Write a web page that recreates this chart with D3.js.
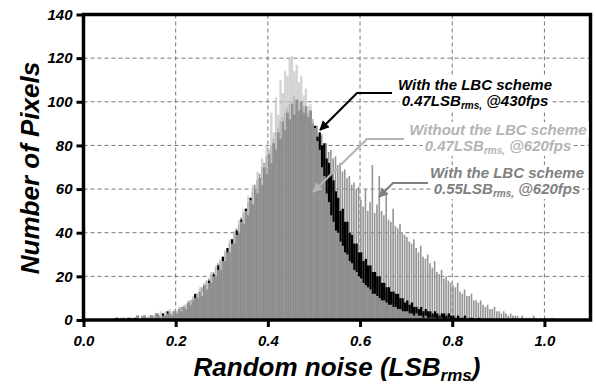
<!DOCTYPE html>
<html>
<head>
<meta charset="utf-8">
<script src="https://cdn.jsdelivr.net/npm/d3@7"></script>
<style>
  body { margin: 0; background: #fff; }
  text { font-family: "Liberation Sans", Arial, sans-serif; font-weight: bold; font-style: italic; }
</style>
</head>
<body>
<div id="chart"></div>
<script>
// histogram bins: left edge of first bin and bin width (LSB_rms)
const binStart = 0.06;
const binWidth = 0.005;

// With the LBC scheme, 0.47LSBrms @430fps (black)
const withLbc430 = [
  0,0,1,0,0,1,0,1,
  1,0,1,2,0,1,2,1,1,2,
  1,3,2,1,3,2,4,3,2,4,
  3,5,4,6,5,8,7,9,12,10,
  13,11,16,14,18,17,21,20,25,23,
  29,27,33,31,37,35,41,40,46,44,
  51,48,56,53,60,58,65,62,70,67,
  76,72,81,78,86,83,91,87,95,92,
  99,94,101,96,100,95,98,93,96,90,
  89,84,86,80,81,74,72,67,64,59,
  56,50,51,45,45,40,39,35,35,31,
  31,27,28,25,25,22,22,20,20,17,
  17,15,15,13,13,12,12,10,10,8,
  9,7,8,6,6,5,6,4,5,4,
  4,3,4,3,2,3,3,2,3,2,
  2,1,2,1,1,2,0,1,1,0,
  0,1,0,0
];

// Without the LBC scheme, 0.47LSBrms @620fps (light gray)
const withoutLbc620 = [
  0,1,0,1,0,1,1,0,
  1,1,0,2,1,1,2,1,2,2,
  2,3,2,4,2,4,3,5,4,5,
  4,6,5,7,7,9,8,11,10,12,
  15,13,17,18,17,22,20,25,23,28,
  27,32,31,37,35,41,39,46,45,51,
  50,57,55,62,60,68,65,74,71,80,
  78,95,86,102,94,110,104,114,112,120,
  121,114,117,109,112,103,106,98,99,92,
  88,82,78,70,66,58,54,48,45,41,
  40,36,34,31,30,27,26,23,22,20,
  19,17,16,15,14,12,12,11,10,9,
  9,8,7,7,6,6,5,5,4,4,
  4,3,3,2,3,2,2,1,2,1,
  1,1,1,0,1,1,0,0,1,0
];

// With the LBC scheme, 0.55LSBrms @620fps (mid gray)
const withLbc620 = [
  0,0,1,0,1,0,0,1,
  0,1,1,1,0,2,1,1,1,2,
  2,1,3,2,3,2,3,4,3,4,
  4,5,6,6,7,8,9,10,11,12,
  13,15,16,18,19,21,22,24,26,27,
  29,31,33,35,37,40,42,44,47,49,
  51,54,56,59,62,64,67,70,72,75,
  78,80,83,86,88,91,93,95,97,99,
  100,103,99,101,97,98,94,95,91,92,
  88,89,84,85,80,81,77,78,74,75,
  71,72,68,69,65,66,62,63,60,61,
  55,52,60,50,54,71,49,53,66,50,
  48,58,46,45,51,43,42,44,40,39,
  38,36,35,37,33,31,34,29,28,30,
  26,24,27,22,21,23,19,20,18,17,
  16,15,17,13,12,14,11,11,12,9,
  9,8,9,7,6,7,5,5,6,4,
  4,3,4,3,2,3,2,2,2,1,
  2,1,1,1,1,2,1,0,1,0,
  1,0,0,1
];

const xTicks = [0.0, 0.2, 0.4, 0.6, 0.8, 1.0];
const yTicks = [0, 20, 40, 60, 80, 100, 120, 140];

const width = 596, height = 388;
const m = { left: 83.5, right: 590.5, top: 14.5, bottom: 320 };

const svg = d3.select('#chart').append('svg')
  .attr('width', width)
  .attr('height', height);

const x = d3.scaleLinear().domain([0, 1.1]).range([m.left, m.right]);
const y = d3.scaleLinear().domain([0, 140]).range([m.bottom, m.top]);

// grid
svg.append('g')
  .selectAll('line')
  .data(xTicks.filter(d => d > 0))
  .enter()
  .append('line')
  .attr('x1', d => x(d)).attr('x2', d => x(d))
  .attr('y1', m.top).attr('y2', m.bottom)
  .attr('stroke', '#777').attr('stroke-width', 1).attr('stroke-dasharray', '4,3');

svg.append('g')
  .selectAll('line')
  .data(yTicks.filter(d => d > 0 && d < 140))
  .enter()
  .append('line')
  .attr('x1', m.left).attr('x2', m.right)
  .attr('y1', d => y(d)).attr('y2', d => y(d))
  .attr('stroke', '#777').attr('stroke-width', 1).attr('stroke-dasharray', '4,3');

// bars, back to front
const bw = x(binWidth) - x(0);
const series = [
  { values: withLbc620, fill: '#959595', opacity: 1, w: bw - 0.7 },
  { values: withLbc430, fill: '#000', opacity: 1, w: bw },
  { values: withoutLbc620, fill: 'rgb(196,196,196)', opacity: 0.75, w: bw }
];

series.forEach(s => {
  svg.append('g')
    .selectAll('rect')
    .data(s.values)
    .enter()
    .append('rect')
    .attr('x', (d, i) => x(binStart + i * binWidth))
    .attr('width', s.w)
    .attr('y', d => y(d))
    .attr('height', d => m.bottom - y(d))
    .attr('fill', s.fill)
    .attr('fill-opacity', s.opacity);
});

// frame
svg.append('rect')
  .attr('x', m.left).attr('y', m.top)
  .attr('width', m.right - m.left).attr('height', m.bottom - m.top)
  .attr('fill', 'none').attr('stroke', '#000').attr('stroke-width', 3.5);

// axes
const xAxis = svg.append('g')
  .attr('transform', `translate(0,${m.bottom})`)
  .call(d3.axisBottom(x).tickValues(xTicks).tickSize(7).tickPadding(8).tickFormat(d3.format('.1f')));
const yAxis = svg.append('g')
  .attr('transform', `translate(${m.left},0)`)
  .call(d3.axisLeft(y).tickValues(yTicks).tickSize(7).tickPadding(4).tickFormat(d3.format('d')));

[xAxis, yAxis].forEach(a => {
  a.select('.domain').remove();
  a.selectAll('.tick line').attr('stroke', '#000').attr('stroke-width', 3);
  a.selectAll('.tick text')
    .attr('fill', '#000')
    .style('font-size', '15px')
    .style('font-family', '"Liberation Sans", Arial, sans-serif')
    .style('font-weight', 'bold')
    .style('font-style', 'italic');
});

// axis titles
svg.append('text')
  .attr('transform', 'translate(39,168) rotate(-90)')
  .attr('text-anchor', 'middle')
  .style('font-size', '26px')
  .text('Number of Pixels');

const xt = svg.append('text')
  .attr('x', 337).attr('y', 376)
  .attr('text-anchor', 'middle')
  .style('font-size', '26px');
xt.append('tspan').text('Random noise (LSB');
xt.append('tspan').attr('baseline-shift', '-30%').style('font-size', '17px').text('rms');
xt.append('tspan').text(')');

// annotations
const defs = svg.append('defs');
function arrowMarker(id, color) {
  defs.append('marker')
    .attr('id', id)
    .attr('viewBox', '0 0 10 10')
    .attr('refX', 9).attr('refY', 5)
    .attr('markerWidth', 4.5).attr('markerHeight', 4.5)
    .attr('markerUnits', 'strokeWidth')
    .attr('orient', 'auto')
    .append('path')
    .attr('d', 'M0,0 L10,5 L0,10 Z')
    .attr('fill', color);
}

function note(cx, y1, line1, val, fps, color, path, markerId) {
  arrowMarker(markerId, color);
  const g = svg.append('g');
  const t1 = g.append('text')
    .attr('x', cx).attr('y', y1)
    .attr('text-anchor', 'middle')
    .attr('fill', color)
    .style('font-size', '15px')
    .text(line1);
  const t2 = g.append('text')
    .attr('x', cx).attr('y', y1 + 16)
    .attr('text-anchor', 'middle')
    .attr('fill', color)
    .style('font-size', '15px');
  t2.append('tspan').text(val + 'LSB');
  t2.append('tspan').attr('baseline-shift', '-30%').style('font-size', '10px').text('rms,');
  t2.append('tspan').text(' @' + fps);
  [t1, t2].forEach(t => {
    const b = t.node().getBBox();
    g.insert('rect', 'text')
      .attr('x', b.x - 2).attr('y', b.y + 1)
      .attr('width', b.width + 4).attr('height', b.height - 1)
      .attr('fill', '#fff');
  });
  svg.append('path')
    .attr('d', d3.line()(path))
    .attr('fill', 'none')
    .attr('stroke', color)
    .attr('stroke-width', 2.2)
    .attr('marker-end', `url(#${markerId})`);
}

note(475, 90, 'With the LBC scheme', '0.47', '430fps', '#000',
  [[392, 93], [357, 93], [320, 130]], 'arrow-black');
note(498, 135, 'Without the LBC scheme', '0.47', '620fps', '#b4b4b4',
  [[404, 139], [367, 139], [313, 192]], 'arrow-light');
note(507, 178, 'With the LBC scheme', '0.55', '620fps', '#808080',
  [[428, 183], [393, 183], [379, 197]], 'arrow-mid');
</script>
</body>
</html>
